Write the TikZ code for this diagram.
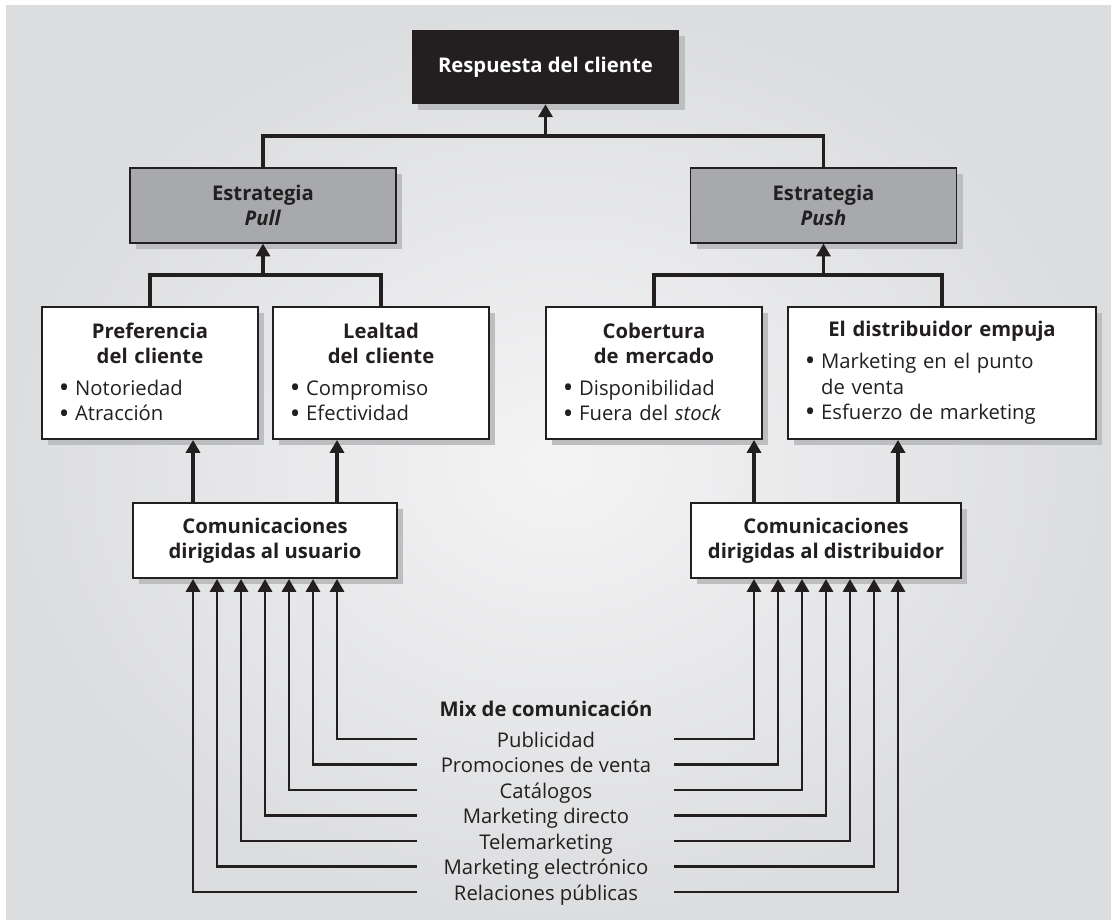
\documentclass[tikz,border=0pt]{standalone}
\usepackage{fontspec}
\setmainfont{Open Sans}
\usetikzlibrary{arrows.meta,shadows}

\definecolor{inkdark}{HTML}{231F20}
\definecolor{stratgray}{HTML}{A7A9AC}
\definecolor{shadowgray}{HTML}{BCBEC0}
\definecolor{panelgray}{HTML}{DCDDDF}
\definecolor{panellight}{HTML}{F4F4F5}

\newcommand{\boxfont}{\fontsize{14.4pt}{18.1pt}\selectfont}
\newcommand{\boxhead}[1]{{\centering\bfseries #1\par}\vspace{4.5pt}}
\newcommand{\bigdot}{\raisebox{-1.6pt}{\fontsize{20pt}{0pt}\selectfont •}}
\newcommand{\bitem}[1]{\par\hangindent=0.8em\hangafter=1\noindent\makebox[0.8em][l]{\bigdot}#1}

\tikzset{
  boxshadow/.style={drop shadow={shadow xshift=0.16cm, shadow yshift=-0.16cm, opacity=1, fill=shadowgray}},
  topbox/.style={fill=inkdark, text=white, font=\boxfont\bfseries, minimum width=6.675cm, minimum height=1.85cm, boxshadow},
  stratbox/.style={draw=inkdark, line width=0.8pt, fill=stratgray, text=inkdark, align=center, font=\boxfont\bfseries, minimum width=6.65cm, minimum height=1.875cm, boxshadow},
  itembox/.style={draw=inkdark, line width=1.4pt, fill=white, text=inkdark, align=left, font=\boxfont, inner xsep=0.425cm, minimum height=3.3cm, boxshadow},
  commbox/.style={draw=inkdark, line width=1.4pt, fill=white, text=inkdark, align=center, font=\boxfont\bfseries, minimum height=1.875cm, boxshadow},
  mixitem/.style={text=inkdark, font=\boxfont, inner sep=0pt, text height=0.5cm, text depth=0.1cm},
  link/.style={draw=inkdark, line width=2.4pt},
  uparrow/.style={link, -{Triangle[width=0.35cm,length=0.32cm]}},
  mixline/.style={draw=inkdark, line width=2pt, -{Triangle[width=0.35cm,length=0.32cm]}}
}

\begin{document}
\begin{tikzpicture}[x=0.025cm, y=-0.025cm]
\useasboundingbox (0,0) rectangle (1113,920);
\shade[inner color=panellight, outer color=panelgray] (6,6) rectangle (1111,920);

% cabecera y estrategias
\node[topbox] (respuesta) at (545.5,67) {Respuesta del cliente};
\node[stratbox] (pull) at (263,205.5) {Estrategia\\\textit{Pull}};
\node[stratbox] (push) at (823.5,205.5) {Estrategia\\\textit{Push}};

% efectos
\node[itembox, text width=4.55cm] (preferencia) at (150,373) {\boxhead{Preferencia\\del cliente}\bitem{Notoriedad}\bitem{Atracción}};
\node[itembox, text width=4.55cm] (lealtad) at (381,373) {\boxhead{Lealtad\\del cliente}\bitem{Compromiso}\bitem{Efectividad}};
\node[itembox, text width=4.55cm] (cobertura) at (654,373) {\boxhead{Cobertura\\de mercado}\bitem{Disponibilidad}\bitem{Fuera del \textit{stock}}};
\node[itembox, text width=6.85cm] (empuje) at (942,373) {\boxhead{El distribuidor empuja}\bitem{Marketing en el punto\newline de venta}\bitem{Esfuerzo de marketing}};

% comunicaciones
\node[commbox, minimum width=6.6cm] (comusuario) at (265,540.5) {Comunicaciones\\dirigidas al usuario};
\node[commbox, minimum width=6.75cm] (comdistrib) at (826,540.5) {Comunicaciones\\dirigidas al distribuidor};

\coordinate (topjoin) at (545.5,136);
\coordinate (pulljoin) at (263,275);
\coordinate (pushjoin) at (823.5,275);
\draw[link] (pull.north) |- (topjoin) -| (push.north);
\draw[uparrow] (topjoin) -- (respuesta.south);
\draw[link] (preferencia.north) |- (pulljoin) -| (lealtad.north);
\draw[uparrow] (pulljoin) -- (pull.south);
\draw[link] (cobertura.north) |- (pushjoin) -| (empuje.north);
\draw[uparrow] (pushjoin) -- (push.south);

\coordinate (a1) at (193,0);
\coordinate (a2) at (337,0);
\coordinate (a3) at (754,0);
\coordinate (a4) at (898,0);
\draw[uparrow] (comusuario.north -| a1) -- (preferencia.south -| a1);
\draw[uparrow] (comusuario.north -| a2) -- (lealtad.south -| a2);
\draw[uparrow] (comdistrib.north -| a3) -- (cobertura.south -| a3);
\draw[uparrow] (comdistrib.north -| a4) -- (empuje.south -| a4);

% mix de comunicacion
\node[mixitem, font=\boxfont\bfseries] (mixtitle) at (546,708) {Mix de comunicación};
\foreach \txt [count=\i from 0] in {Publicidad, Promociones de venta, Catálogos, Marketing directo, Telemarketing, Marketing electrónico, Relaciones públicas}{
  \pgfmathsetmacro{\rowy}{739+25.5*\i}
  \pgfmathsetmacro{\lx}{337-24*\i}
  \pgfmathsetmacro{\rx}{754+24*\i}
  \node[mixitem] (mix\i) at (546,\rowy) {\txt};
  \coordinate (ml\i) at (417,\rowy);
  \coordinate (mr\i) at (674,\rowy);
  \coordinate (ul\i) at (\lx,0);
  \coordinate (ur\i) at (\rx,0);
  \draw[mixline] (ml\i) -| (comusuario.south -| ul\i);
  \draw[mixline] (mr\i) -| (comdistrib.south -| ur\i);
}
\end{tikzpicture}
\end{document}
